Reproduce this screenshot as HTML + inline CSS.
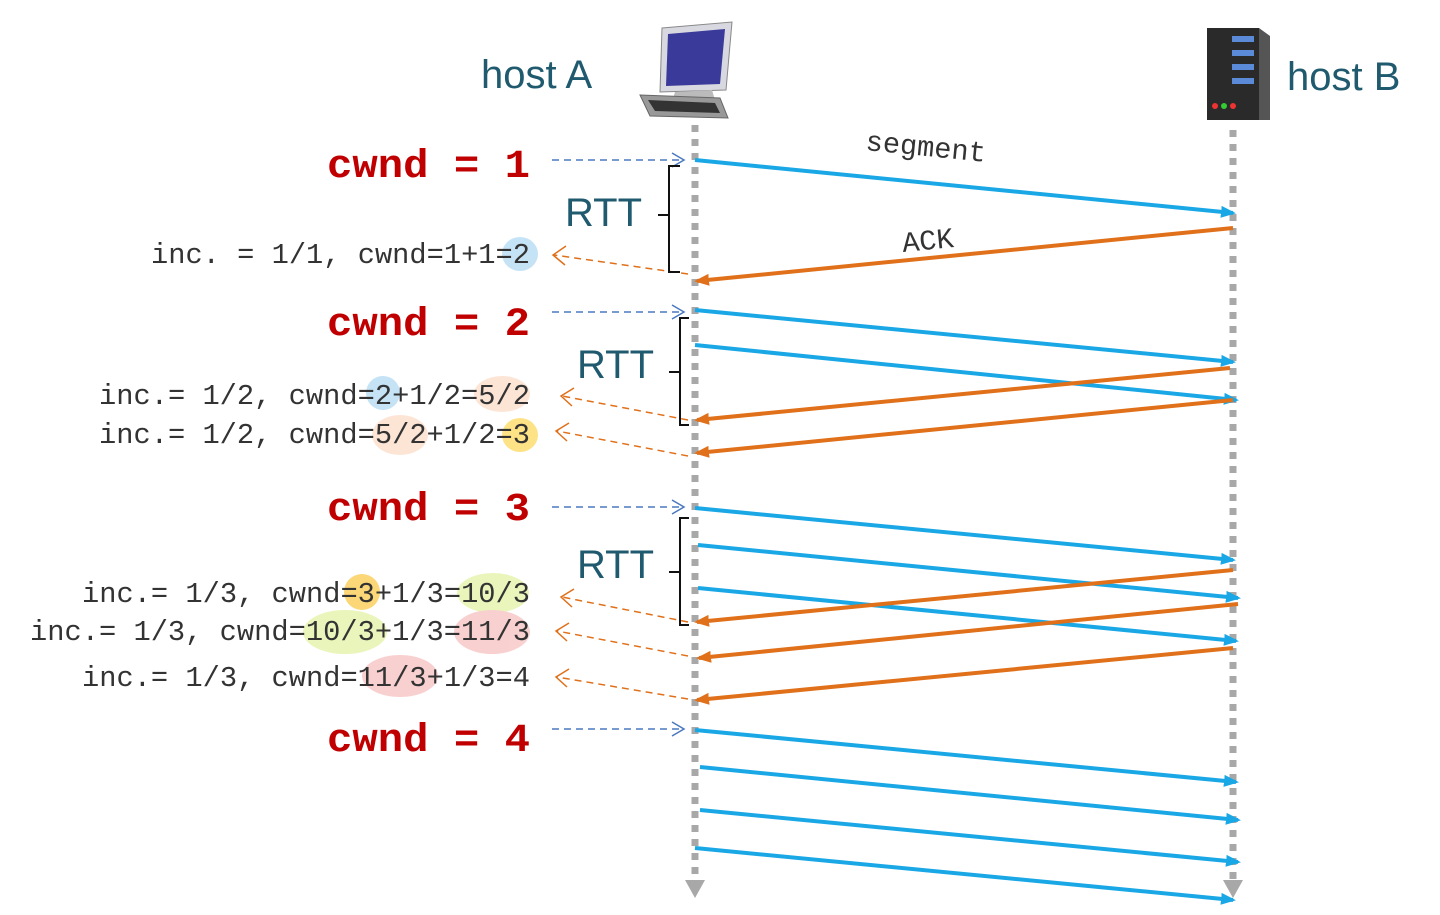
<!DOCTYPE html>
<html><head><meta charset="utf-8"><style>
html,body{margin:0;padding:0;background:#fff;}
svg{display:block}
.m{font-family:"Liberation Mono",monospace;font-size:28.7px;fill:#333}
.c{font-family:"Liberation Mono",monospace;font-weight:bold;font-size:40px;fill:#c00000}
.t{font-family:"Liberation Sans",sans-serif;font-size:40px;fill:#1f5a6e}
</style></head><body>
<svg width="1440" height="915" viewBox="0 0 1440 915" xmlns="http://www.w3.org/2000/svg">
<defs>
<marker id="bh" markerWidth="16" markerHeight="14" refX="12" refY="7" orient="auto" markerUnits="userSpaceOnUse"><path d="M0,1 L15,7 L0,13 Z" fill="#1aa7e6"/></marker>
<marker id="oh" markerWidth="16" markerHeight="14" refX="12" refY="7" orient="auto" markerUnits="userSpaceOnUse"><path d="M0,1 L15,7 L0,13 Z" fill="#e0701a"/></marker>
</defs>
<g opacity="0.9">
<ellipse cx="520" cy="254" rx="18" ry="17" fill="#bfe0f5"/>
<ellipse cx="383" cy="393" rx="17" ry="17" fill="#bfe0f5"/>
<ellipse cx="502" cy="394" rx="28" ry="18" fill="#fde3d2"/>
<ellipse cx="400" cy="435" rx="28" ry="20" fill="#fde3d2"/>
<ellipse cx="520" cy="435" rx="18" ry="17" fill="#fde07a"/>
<ellipse cx="362" cy="592" rx="18" ry="18" fill="#fbd36a"/>
<ellipse cx="493" cy="593" rx="36" ry="20" fill="#e7f5b4"/>
<ellipse cx="345" cy="632" rx="42" ry="22" fill="#e7f5b4"/>
<ellipse cx="492" cy="632" rx="38" ry="22" fill="#f8cccc"/>
<ellipse cx="400" cy="676" rx="38" ry="21" fill="#f8cccc"/>
</g>
<text class="t" x="481" y="88" font-size="38">host A</text>
<text class="t" x="1287" y="90" font-size="38">host B</text>
<g>
<polygon points="662,28 732,22 726,90 660,92" fill="#d8d8e0" stroke="#888"/>
<polygon points="668,34 725,29 720,84 666,86" fill="#3a3a9a"/>
<polygon points="675,92 712,90 715,100 672,102" fill="#bbb"/>
<polygon points="640,95 720,98 728,118 650,116" fill="#999" stroke="#666"/>
<polygon points="648,100 715,103 720,113 655,111" fill="#333"/>
</g>
<g>
<rect x="1207" y="28" width="52" height="92" fill="#2a2a2a"/>
<polygon points="1259,28 1270,36 1270,120 1259,120" fill="#555"/>
<rect x="1232" y="36" width="22" height="6" fill="#5a8ad8"/>
<rect x="1232" y="50" width="22" height="6" fill="#5a8ad8"/>
<rect x="1232" y="64" width="22" height="6" fill="#5a8ad8"/>
<rect x="1232" y="78" width="22" height="6" fill="#5a8ad8"/>
<circle cx="1215" cy="106" r="3" fill="#e33"/><circle cx="1224" cy="106" r="3" fill="#3c3"/><circle cx="1233" cy="106" r="3" fill="#e33"/>
</g>
<line x1="695" y1="125" x2="695" y2="880" stroke="#a8a8a8" stroke-width="7" stroke-dasharray="7,7"/>
<polygon points="685,880 705,880 695,898" fill="#a8a8a8"/>
<line x1="1233" y1="130" x2="1233" y2="880" stroke="#a8a8a8" stroke-width="7" stroke-dasharray="7,7"/>
<polygon points="1223,880 1243,880 1233,898" fill="#a8a8a8"/>
<g stroke="#1aa7e6" stroke-width="4" marker-end="url(#bh)">
<line x1="695" y1="160" x2="1233" y2="213"/>
<line x1="695" y1="310" x2="1233" y2="362"/>
<line x1="695" y1="345" x2="1236" y2="400"/>
<line x1="695" y1="508" x2="1233" y2="560"/>
<line x1="698" y1="545" x2="1238" y2="598"/>
<line x1="698" y1="588" x2="1236" y2="641"/>
<line x1="695" y1="730" x2="1236" y2="782"/>
<line x1="700" y1="767" x2="1238" y2="820"/>
<line x1="700" y1="810" x2="1238" y2="862"/>
<line x1="695" y1="848" x2="1233" y2="900"/>
</g>
<g stroke="#e0701a" stroke-width="4" marker-end="url(#oh)">
<line x2="697" y2="281" x1="1233" y1="228"/>
<line x2="697" y2="420" x1="1230" y1="368"/>
<line x2="697" y2="453" x1="1233" y1="400"/>
<line x2="697" y2="622" x1="1233" y1="570"/>
<line x2="699" y2="658" x1="1238" y1="604"/>
<line x2="697" y2="700" x1="1233" y1="648"/>
</g>
<text class="m" x="865" y="150" transform="rotate(5.6 865 150)">segment</text>
<text class="m" x="903" y="252" transform="rotate(-5.6 903 252)">ACK</text>
<g stroke="#4a78c0" stroke-width="1.5" fill="none">
<line x1="552" y1="160" x2="684" y2="160" stroke-dasharray="7,5"/><path d="M672,153 L684,160 L672,167"/>
<line x1="552" y1="312" x2="684" y2="312" stroke-dasharray="7,5"/><path d="M672,305 L684,312 L672,319"/>
<line x1="552" y1="507" x2="684" y2="507" stroke-dasharray="7,5"/><path d="M672,500 L684,507 L672,514"/>
<line x1="552" y1="729" x2="684" y2="729" stroke-dasharray="7,5"/><path d="M672,722 L684,729 L672,736"/>
</g>
<g stroke="#e0701a" stroke-width="1.5" fill="none">
<line x1="688" y1="274" x2="554" y2="255" stroke-dasharray="7,5"/><path d="M566,246 L553,255 L565,265"/>
<line x1="688" y1="420" x2="562" y2="396" stroke-dasharray="7,5"/><path d="M574,388 L561,396 L572,406"/>
<line x1="688" y1="456" x2="557" y2="431" stroke-dasharray="7,5"/><path d="M569,423 L556,431 L567,441"/>
<line x1="688" y1="622" x2="562" y2="597" stroke-dasharray="7,5"/><path d="M574,589 L561,597 L572,607"/>
<line x1="688" y1="656" x2="557" y2="631" stroke-dasharray="7,5"/><path d="M569,623 L556,631 L567,641"/>
<line x1="688" y1="699" x2="557" y2="677" stroke-dasharray="7,5"/><path d="M569,669 L556,677 L567,687"/>
</g>
<g stroke="#111" stroke-width="2" fill="none">
<path d="M680,166 L669,166 L669,215 L658,215 M669,215 L669,272 L680,272"/>
<path d="M689,318 L680,318 L680,372 L669,372 M680,372 L680,425 L689,425"/>
<path d="M689,518 L680,518 L680,572 L669,572 M680,572 L680,625 L689,625"/>
</g>
<text class="t" x="565" y="226">RTT</text>
<text class="t" x="577" y="378">RTT</text>
<text class="t" x="577" y="578">RTT</text>
<text class="c" x="327" y="177" textLength="203" lengthAdjust="spacingAndGlyphs">cwnd = 1</text>
<text class="c" x="327" y="335" textLength="203" lengthAdjust="spacingAndGlyphs">cwnd = 2</text>
<text class="c" x="327" y="520" textLength="203" lengthAdjust="spacingAndGlyphs">cwnd = 3</text>
<text class="c" x="327" y="751" textLength="203" lengthAdjust="spacingAndGlyphs">cwnd = 4</text>
<text class="m" x="151" y="263" textLength="379" lengthAdjust="spacingAndGlyphs">inc. = 1/1, cwnd=1+1=2</text>
<text class="m" x="99" y="404" textLength="431" lengthAdjust="spacingAndGlyphs">inc.= 1/2, cwnd=2+1/2=5/2</text>
<text class="m" x="99" y="443" textLength="431" lengthAdjust="spacingAndGlyphs">inc.= 1/2, cwnd=5/2+1/2=3</text>
<text class="m" x="82" y="602" textLength="448" lengthAdjust="spacingAndGlyphs">inc.= 1/3, cwnd=3+1/3=10/3</text>
<text class="m" x="30" y="640" textLength="500" lengthAdjust="spacingAndGlyphs">inc.= 1/3, cwnd=10/3+1/3=11/3</text>
<text class="m" x="82" y="686" textLength="448" lengthAdjust="spacingAndGlyphs">inc.= 1/3, cwnd=11/3+1/3=4</text>
</svg>
</body></html>
